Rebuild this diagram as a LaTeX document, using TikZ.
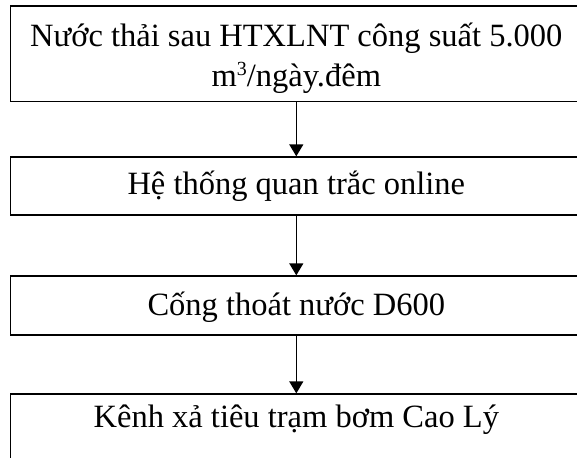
\documentclass[tikz,border=0pt]{standalone}
\usepackage{fontspec}
\setmainfont{Liberation Serif}
\usetikzlibrary{arrows.meta}

\newcommand{\cubed}{\raisebox{11pt}{\fontsize{20}{20}\selectfont 3}}

\begin{document}
\begin{tikzpicture}[x=1pt, y=-1pt,
  box/.style={draw, line width=1.3pt, minimum width=571.5pt, inner sep=0pt,
    font=\fontsize{32.5}{40}\selectfont, align=center},
  flow/.style={line width=1.4pt, -{Triangle[length=12pt, width=14pt]}}]
  \useasboundingbox (0,0) rectangle (577,457);

  % process steps, top to bottom
  \node[box, minimum height=95.7pt] (n1) at (296.3,53.85)
    {\raisebox{-5pt}[\height][\depth]{\begin{tabular}{@{}c@{}}Nước thải sau HTXLNT công suất 5.000\\m\cubed/ngày.đêm\end{tabular}}};
  \node[box, text height=37pt, text depth=21pt, anchor=base] (n2) at (296.3,194)
    {Hệ thống quan trắc online};
  \node[box, text height=39pt, text depth=20pt, anchor=base] (n3) at (296.3,315)
    {Cống thoát nước D600};
  \node[box, text height=33pt, text depth=45pt, anchor=base] (n4) at (296.3,427)
    {Kênh xả tiêu trạm bơm Cao Lý};

  % connectors
  \draw[flow] (n1.south) -- (n2.north);
  \draw[flow] (n2.south) -- (n3.north);
  \draw[flow] (n3.south) -- (n4.north);
\end{tikzpicture}
\end{document}
